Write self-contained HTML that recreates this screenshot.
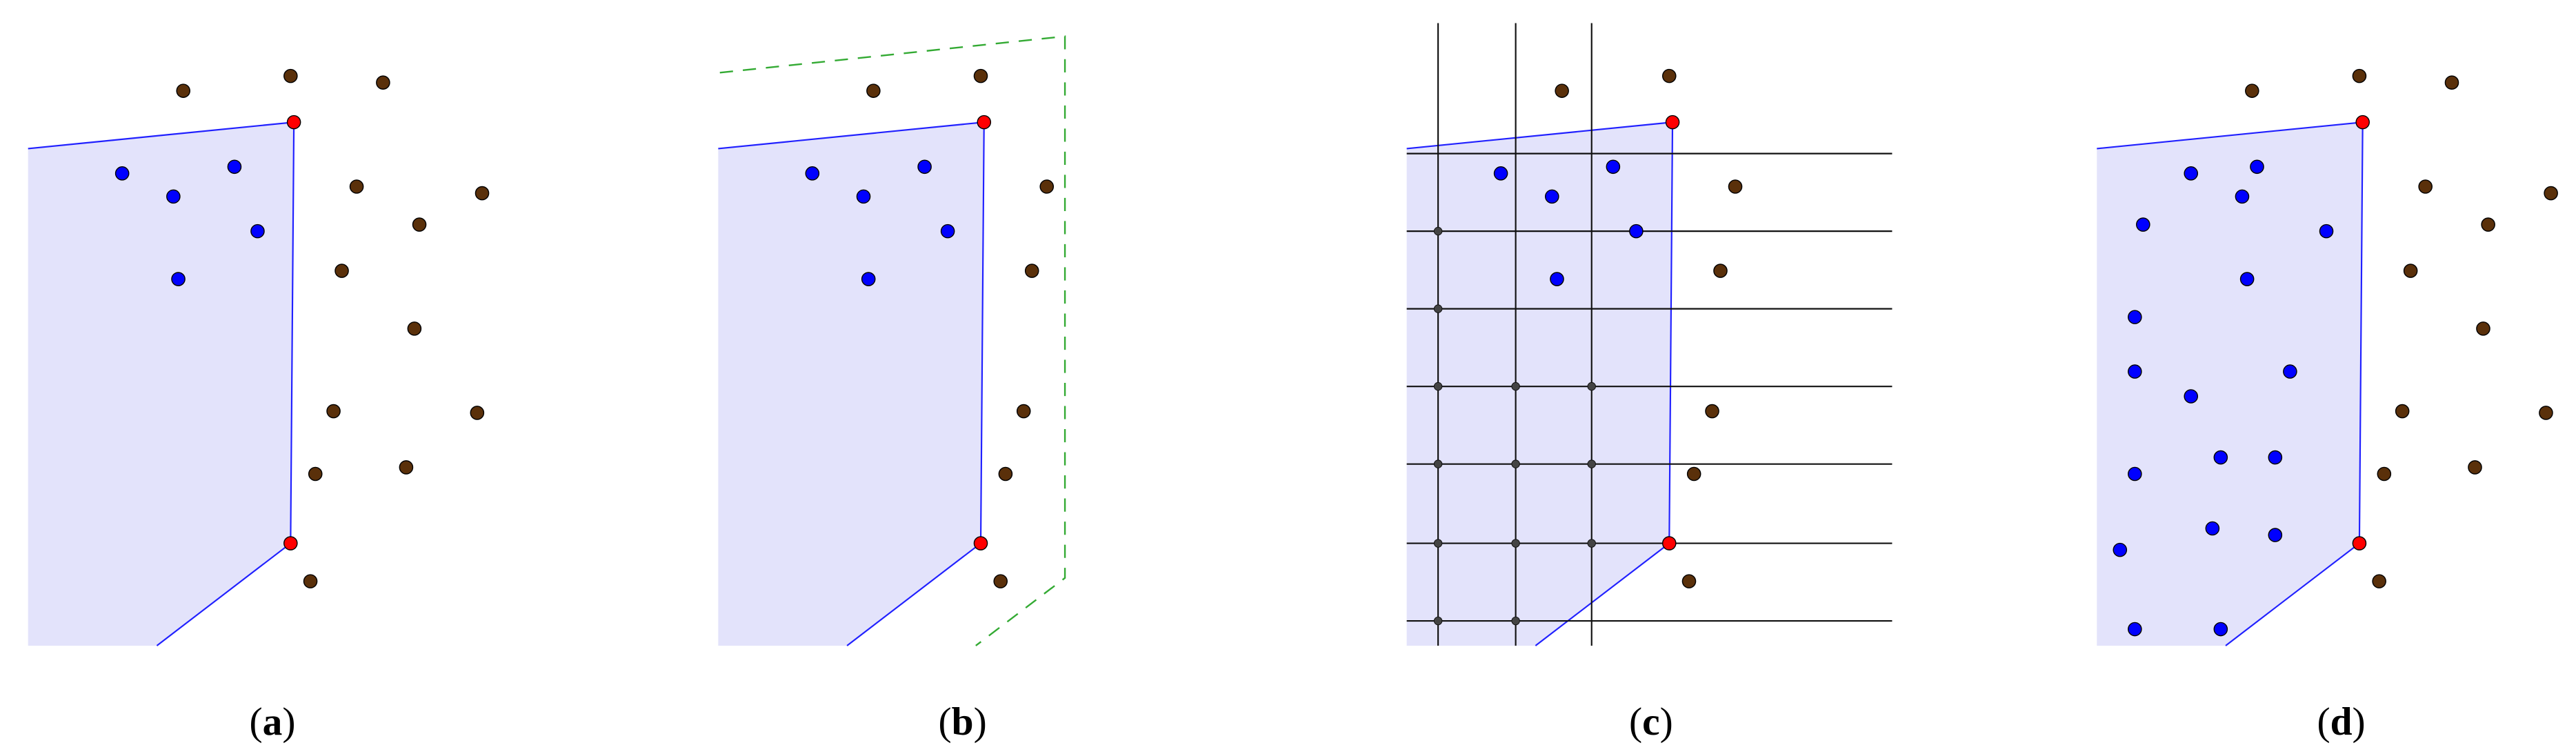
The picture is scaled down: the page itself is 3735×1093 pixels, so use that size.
<!DOCTYPE html>
<html><head><meta charset="utf-8"><style>html,body{margin:0;padding:0;background:#fff}svg{display:block}</style></head>
<body>
<svg width="3735" height="1093" viewBox="0 0 1560.2 456.6" preserveAspectRatio="none" xmlns="http://www.w3.org/2000/svg">
<defs>
<g id="poly">
<polygon points="0,90 161,74 159,329 78,391 0,391" fill="#e3e3fb"/>
<polyline points="0,90 161,74 159,329 78,391" fill="none" stroke="#2020ff" stroke-width="0.9"/>
</g>
<g id="blue5" fill="#0000ff" stroke="#000" stroke-width="0.6">
<circle cx="57" cy="105" r="4"/><circle cx="88" cy="119" r="4"/><circle cx="125" cy="101" r="4"/><circle cx="139" cy="140" r="4"/><circle cx="91" cy="169" r="4"/>
</g>
<g id="red" fill="#ff0000" stroke="#000" stroke-width="0.6">
<circle cx="161" cy="74" r="4"/><circle cx="159" cy="329" r="4"/>
</g>
<g id="brownAll" fill="#5a300a" stroke="#000" stroke-width="0.6">
<circle cx="94" cy="55" r="4"/><circle cx="159" cy="46" r="4"/><circle cx="215" cy="50" r="4"/><circle cx="199" cy="113" r="4"/><circle cx="275" cy="117" r="4"/><circle cx="237" cy="136" r="4"/><circle cx="190" cy="164" r="4"/><circle cx="234" cy="199" r="4"/><circle cx="185" cy="249" r="4"/><circle cx="272" cy="250" r="4"/><circle cx="174" cy="287" r="4"/><circle cx="229" cy="283" r="4"/><circle cx="171" cy="352" r="4"/>
</g>
<g id="brownIn" fill="#5a300a" stroke="#000" stroke-width="0.6">
<circle cx="94" cy="55" r="4"/><circle cx="159" cy="46" r="4"/><circle cx="199" cy="113" r="4"/><circle cx="190" cy="164" r="4"/><circle cx="185" cy="249" r="4"/><circle cx="174" cy="287" r="4"/><circle cx="171" cy="352" r="4"/>
</g>
</defs>

<!-- (a) -->
<g transform="translate(17,0)">
<use href="#poly"/><use href="#blue5"/><use href="#brownAll"/><use href="#red"/>
</g>

<!-- (b) -->
<g transform="translate(435,0)">
<use href="#poly"/>
<polyline points="1,44 210,22 210,350 156,391" fill="none" stroke="#33aa33" stroke-width="1" stroke-dasharray="8,6"/>
<use href="#blue5"/><use href="#brownIn"/><use href="#red"/>
</g>

<!-- (c) -->
<g transform="translate(852,0)">
<use href="#poly"/>
<g stroke="#111" stroke-width="0.9">
<line x1="19" y1="14" x2="19" y2="391"/><line x1="66" y1="14" x2="66" y2="391"/><line x1="112" y1="14" x2="112" y2="391"/>
<line x1="0" y1="93" x2="294" y2="93"/><line x1="0" y1="140" x2="294" y2="140"/><line x1="0" y1="187" x2="294" y2="187"/><line x1="0" y1="234" x2="294" y2="234"/><line x1="0" y1="281" x2="294" y2="281"/><line x1="0" y1="329" x2="294" y2="329"/><line x1="0" y1="376" x2="294" y2="376"/>
</g>
<g fill="#444" stroke="#111" stroke-width="0.4">
<circle cx="19" cy="140" r="2.4"/><circle cx="19" cy="187" r="2.4"/><circle cx="19" cy="234" r="2.4"/><circle cx="19" cy="281" r="2.4"/><circle cx="19" cy="329" r="2.4"/><circle cx="19" cy="376" r="2.4"/>
<circle cx="66" cy="234" r="2.4"/><circle cx="66" cy="281" r="2.4"/><circle cx="66" cy="329" r="2.4"/><circle cx="66" cy="376" r="2.4"/>
<circle cx="112" cy="234" r="2.4"/><circle cx="112" cy="281" r="2.4"/><circle cx="112" cy="329" r="2.4"/>
</g>
<use href="#blue5"/>
<use href="#brownIn"/><use href="#red"/>
</g>

<!-- (d) -->
<g transform="translate(1270,0)">
<use href="#poly"/>
<g fill="#0000ff" stroke="#000" stroke-width="0.6">
<circle cx="57" cy="105" r="4"/><circle cx="88" cy="119" r="4"/><circle cx="97" cy="101" r="4"/><circle cx="139" cy="140" r="4"/><circle cx="91" cy="169" r="4"/>
<circle cx="28" cy="136" r="4"/><circle cx="23" cy="192" r="4"/><circle cx="23" cy="225" r="4"/><circle cx="57" cy="240" r="4"/><circle cx="117" cy="225" r="4"/><circle cx="75" cy="277" r="4"/><circle cx="108" cy="277" r="4"/><circle cx="23" cy="287" r="4"/><circle cx="70" cy="320" r="4"/><circle cx="108" cy="324" r="4"/><circle cx="14" cy="333" r="4"/><circle cx="23" cy="381" r="4"/><circle cx="75" cy="381" r="4"/>
</g>
<use href="#brownAll"/><use href="#red"/>
</g>

<g font-family="Liberation Serif, serif" font-size="24" text-anchor="middle" fill="#000">
<text x="165" y="445">(<tspan font-weight="bold">a</tspan>)</text>
<text x="583" y="445">(<tspan font-weight="bold">b</tspan>)</text>
<text x="1000" y="445">(<tspan font-weight="bold">c</tspan>)</text>
<text x="1418" y="445">(<tspan font-weight="bold">d</tspan>)</text>
</g>
</svg>
</body></html>
